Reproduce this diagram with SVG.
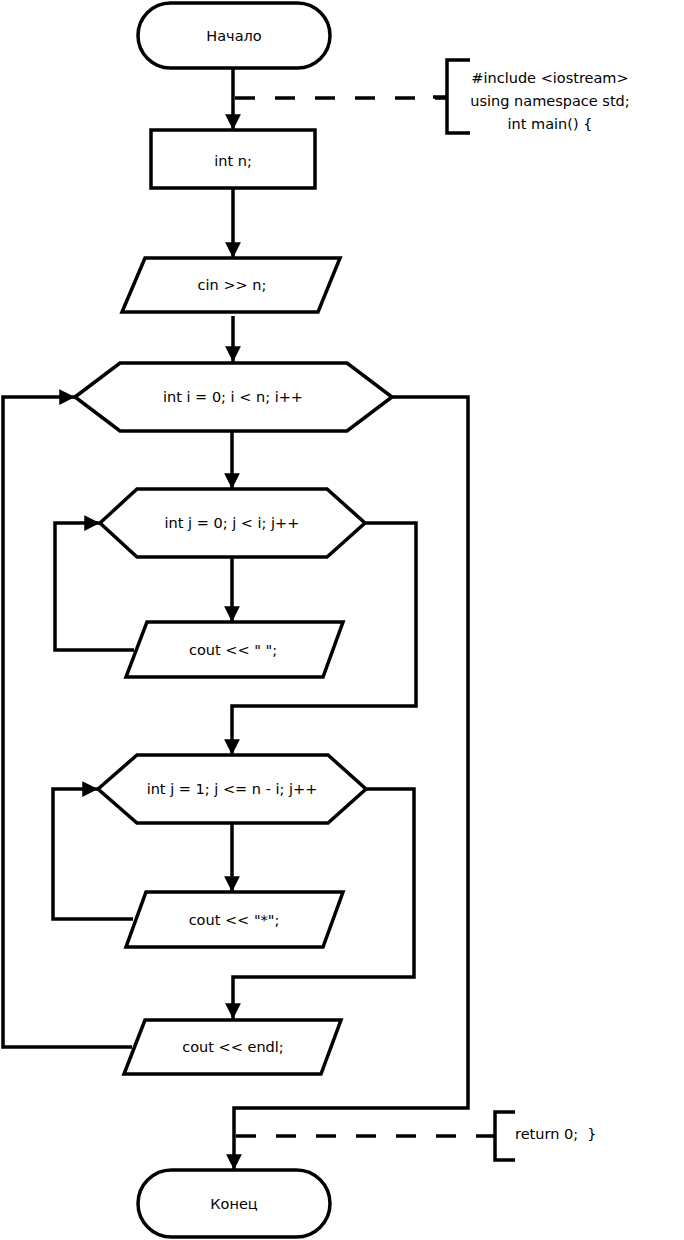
<svg xmlns="http://www.w3.org/2000/svg" width="684" height="1240" viewBox="0 0 684 1240">
<defs>
<marker id="arr" viewBox="0 0 10 10" refX="10" refY="5" markerWidth="4.5" markerHeight="4.5" markerUnits="strokeWidth" orient="auto">
<path d="M0,0 L10,5 L0,10 Z" fill="#000"/>
</marker>
<style>
.s{fill:#fff;stroke:#000;stroke-width:3.5}
.c{fill:none;stroke:#000;stroke-width:3.5}
.d{fill:none;stroke:#000;stroke-width:3.5;stroke-dasharray:20 20}
.t{font-family:"DejaVu Sans",Verdana,sans-serif;font-size:14.5px;fill:#000;text-anchor:middle;dominant-baseline:central}
.ts{font-family:"DejaVu Sans",Verdana,sans-serif;font-size:14.5px;fill:#000;text-anchor:start;dominant-baseline:central;white-space:pre}
</style>
</defs>
<rect width="684" height="1240" fill="#fff"/>
<g id="connectors">
<path class="c" d="M233,68 V130" marker-end="url(#arr)"/>
<path class="d" d="M235,98 H447"/>
<path class="c" d="M233,188 V258" marker-end="url(#arr)"/>
<path class="c" d="M233,316 V362" marker-end="url(#arr)"/>
<path class="c" d="M232,431 V489" marker-end="url(#arr)"/>
<path class="c" d="M232,557 V622" marker-end="url(#arr)"/>
<path class="c" d="M134,650 H55 V523 H100" marker-end="url(#arr)"/>
<path class="c" d="M365,523 H416 V706 H232 V755" marker-end="url(#arr)"/>
<path class="c" d="M232,823 V892" marker-end="url(#arr)"/>
<path class="c" d="M133,919 H53 V789 H98" marker-end="url(#arr)"/>
<path class="c" d="M366,789 H414 V977 H233 V1019" marker-end="url(#arr)"/>
<path class="c" d="M132,1047 H3 V397 H75" marker-end="url(#arr)"/>
<path class="c" d="M392,397 H468 V1108 H234 V1170" marker-end="url(#arr)"/>
<path class="d" d="M236,1136 H495"/>
</g>
<g id="start">
<rect class="s" x="138" y="3" width="192" height="65" rx="32.5"/>
<text class="t" x="234" y="36">Начало</text>
</g>
<g id="comment1">
<path class="c" d="M470,60 H447 V133 H470 M433,97 H447"/>
<text class="t" x="550" y="78">#include &lt;iostream&gt;</text>
<text class="t" x="550" y="101">using namespace std;</text>
<text class="t" x="550" y="124">int main() {</text>
</g>
<g id="decl">
<rect class="s" x="151" y="130" width="164" height="58"/>
<text class="t" x="233" y="161">int n;</text>
</g>
<g id="input">
<polygon class="s" points="145,258 340,258 318,312 122,312"/>
<text class="t" x="232" y="285">cin &gt;&gt; n;</text>
</g>
<g id="loop-i">
<polygon class="s" points="75,397 120,363 347,363 392,397 347,431 120,431"/>
<text class="t" x="233" y="397">int i = 0; i &lt; n; i++</text>
</g>
<g id="loop-j1">
<polygon class="s" points="100,523 137,489 327,489 365,523 327,557 137,557"/>
<text class="t" x="232" y="523">int j = 0; j &lt; i; j++</text>
</g>
<g id="out-space">
<polygon class="s" points="147,622 343,622 323,677 126,677"/>
<text class="t" x="233" y="650">cout &lt;&lt; " ";</text>
</g>
<g id="loop-j2">
<polygon class="s" points="98,789 137,755 328,755 366,789 328,823 137,823"/>
<text class="t" x="232" y="789">int j = 1; j &lt;= n - i; j++</text>
</g>
<g id="out-star">
<polygon class="s" points="146,892 343,892 323,947 126,947"/>
<text class="t" x="234" y="920">cout &lt;&lt; "*";</text>
</g>
<g id="out-endl">
<polygon class="s" points="145,1020 341,1020 321,1074 124,1074"/>
<text class="t" x="233" y="1047">cout &lt;&lt; endl;</text>
</g>
<g id="comment2">
<path class="c" d="M515,1112 H495 V1160 H515"/>
<text class="ts" x="515" y="1134" xml:space="preserve">return 0;  }</text>
</g>
<g id="end">
<rect class="s" x="138" y="1170" width="192" height="67" rx="33.5"/>
<text class="t" x="234" y="1204">Конец</text>
</g>
</svg>
